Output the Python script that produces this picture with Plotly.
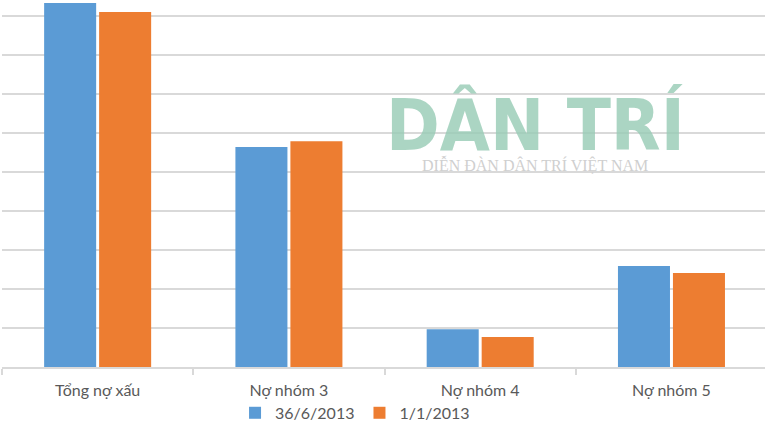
import plotly.graph_objects as go

categories = ["Tổng nợ xấu", "Nợ nhóm 3", "Nợ nhóm 4", "Nợ nhóm 5"]
series_names = ["36/6/2013", "1/1/2013"]
values_jun = [9.33, 5.64, 0.97, 2.59]
values_jan = [9.10, 5.79, 0.77, 2.41]
colors = ["#5B9BD5", "#ED7D31"]

fig = go.Figure()
fig.add_trace(go.Bar(x=categories, y=values_jun, name=series_names[0],
                     marker=dict(color=colors[0], line=dict(width=0))))
fig.add_trace(go.Bar(x=categories, y=values_jan, name=series_names[1],
                     marker=dict(color=colors[1], line=dict(width=0))))

text_color = "#595959"
grid_color = "#D9D9D9"

fig.update_layout(
    width=765, height=431,
    margin=dict(l=2, r=0, t=0, b=64, autoexpand=False),
    paper_bgcolor="white", plot_bgcolor="white",
    barmode="group", bargap=0.425, bargroupgap=0.054,
    font=dict(family="Lato", size=16, color=text_color),
    showlegend=True,
    legend=dict(orientation="h", x=0.4627, xanchor="center", y=-0.125, yanchor="middle",
                font=dict(family="Lato", size=16, color=text_color),
                itemwidth=30, traceorder="normal", bgcolor="rgba(0,0,0,0)"),
    xaxis=dict(range=[-0.5, 3.489], showline=True, linecolor=grid_color, linewidth=1.5,
               ticks="outside", tickson="boundaries", ticklen=6, tickcolor=grid_color,
               tickwidth=1.5, showgrid=False, zeroline=False, automargin=False,
               ticklabelstandoff=8,
               tickfont=dict(family="Lato", size=16, color=text_color)),
    yaxis=dict(range=[0, 9.41], dtick=1, tick0=0, showgrid=True, gridcolor=grid_color,
               gridwidth=1.5, showticklabels=False, zeroline=False, showline=False,
               ticks="", automargin=False),
    annotations=[
        dict(text="DÂN TRÍ", xref="paper", yref="paper", x=0.699, y=0.659,
             xanchor="center", yanchor="middle", showarrow=False,
             font=dict(family="DejaVu Sans Condensed", size=72, weight="bold",
                       color="rgba(150,203,180,0.8)")),
        dict(text="DIỄN ĐÀN DÂN TRÍ VIỆT NAM", xref="paper", yref="paper", x=0.699, y=0.552,
             xanchor="center", yanchor="middle", showarrow=False,
             font=dict(family="Liberation Serif", size=16, color="#CFCFCF")),
    ],
)

post = ("document.documentElement.style.margin='0';"
        "document.body.style.margin='0';document.body.style.padding='0';"
        "document.body.style.overflow='hidden';"
        "var gd=document.getElementById('{plot_id}');"
        "Plotly.relayout(gd,{width:765,height:431});")

fig.write_html("out.html", config={"responsive": False, "displayModeBar": False},
               post_script=post)
